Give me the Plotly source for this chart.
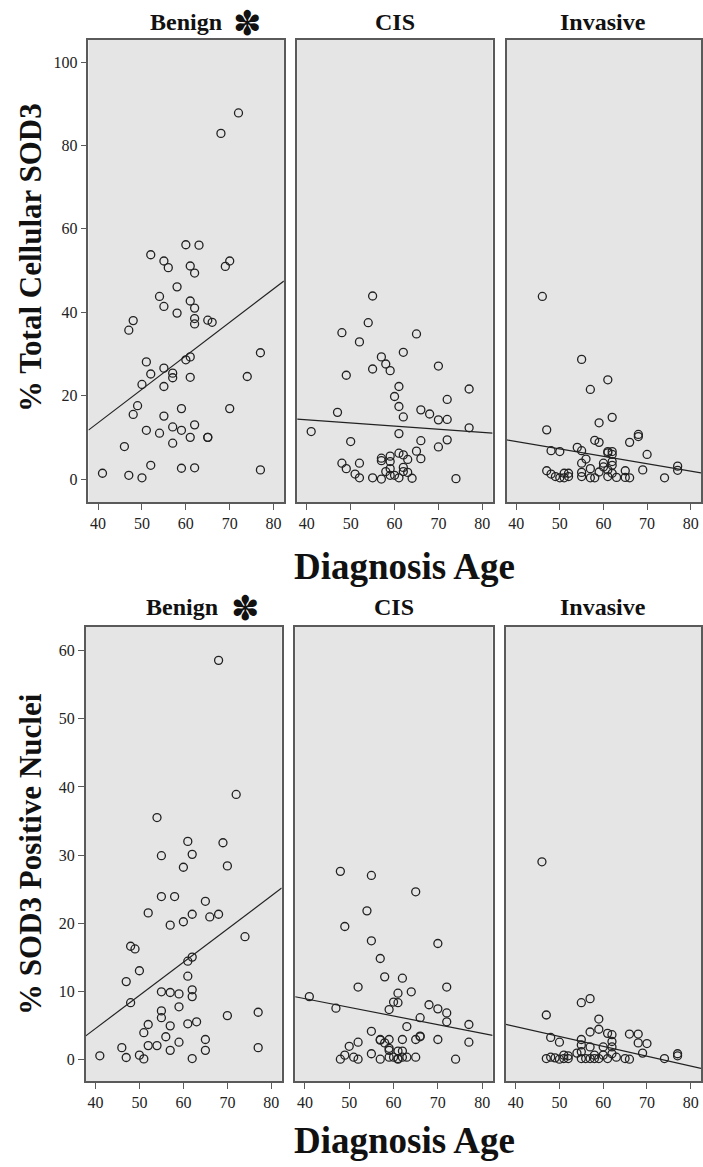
import plotly.graph_objects as go

# ---------------- data ----------------
panels = ["Benign", "CIS", "Invasive"]

# Top: % Total Cellular SOD3
top_benign_age = [72, 68, 60, 63, 52, 55, 56, 61, 62, 70, 69, 58, 54, 55, 58, 61, 62, 62, 62, 65, 66, 48, 47, 77, 74,
                  51, 52, 55, 57, 57, 60, 61, 61, 50, 55, 49, 48, 59, 70, 55, 57, 59, 62, 51, 54, 61, 57, 65, 65, 46,
                  52, 59, 62, 41, 47, 50, 77]
top_benign_val = [87.8, 82.9, 56.2, 56.1, 53.8, 52.3, 50.7, 51.1, 49.4, 52.3, 51.0, 46.1, 43.8, 41.4, 39.8, 42.7, 41.0,
                  38.5, 37.2, 38.1, 37.6, 38.0, 35.7, 30.3, 24.6, 28.1, 25.2, 26.6, 25.4, 24.3, 28.6, 29.3, 24.4, 22.7,
                  22.2, 17.6, 15.5, 16.9, 16.9, 15.1, 12.5, 11.7, 13.0, 11.7, 11.0, 10.0, 8.6, 10.0, 10.0, 7.8, 3.3,
                  2.6, 2.7, 1.4, 0.9, 0.3, 2.2]

top_cis_age = [55, 54, 48, 52, 65, 62, 57, 58, 55, 59, 49, 70, 77, 61, 60, 61, 62, 72, 66, 68, 70, 72, 77, 47, 41, 50,
               61, 66, 72, 70, 65, 61, 62, 63, 66, 57, 57, 59, 59, 48, 52, 49, 51, 52, 55, 57, 58, 59, 59, 60, 61, 62,
               62, 63, 64, 74]
top_cis_val = [43.9, 37.5, 35.1, 32.9, 34.8, 30.4, 29.3, 27.6, 26.4, 26.0, 24.9, 27.1, 21.6, 22.2, 19.8, 17.4, 14.9,
               19.1, 16.6, 15.6, 14.2, 14.3, 12.3, 16.0, 11.4, 9.0, 10.9, 9.2, 9.4, 7.7, 6.7, 6.2, 5.8, 4.7, 4.9, 5.0,
               4.4, 5.5, 4.2, 3.8, 3.8, 2.5, 1.2, 0.3, 0.3, 0.0, 1.8, 2.5, 0.9, 0.9, 0.3, 2.8, 1.8, 1.6, 0.2, 0.1]

top_inv_age = [46, 55, 61, 57, 62, 59, 47, 68, 68, 58, 59, 66, 48, 50, 54, 55, 61, 62, 61, 70, 56, 55, 60, 62, 62, 47,
               48, 49, 50, 51, 52, 52, 51, 55, 55, 57, 57, 58, 59, 61, 61, 62, 63, 65, 65, 66, 69, 74, 77, 77, 60, 62]
top_inv_val = [43.8, 28.7, 23.8, 21.5, 14.8, 13.5, 11.8, 10.7, 10.2, 9.3, 8.8, 8.8, 6.8, 6.6, 7.6, 6.8, 6.6, 6.6, 6.3,
               5.9, 4.8, 3.8, 3.8, 4.2, 3.3, 2.0, 1.2, 0.6, 0.3, 1.4, 1.4, 0.6, 0.3, 1.6, 0.6, 2.5, 0.3, 0.3, 1.7, 2.2,
               0.6, 1.4, 0.4, 2.0, 0.4, 0.3, 2.2, 0.3, 3.1, 2.1, 2.9, 5.9]

# Bottom: % SOD3 Positive Nuclei
bot_benign_age = [68, 72, 54, 61, 69, 62, 55, 60, 70, 55, 58, 65, 52, 60, 62, 66, 68, 57, 74, 48, 49, 62, 61, 50, 61,
                  47, 55, 57, 59, 62, 62, 48, 59, 55, 55, 70, 77, 52, 57, 61, 63, 51, 56, 59, 65, 46, 52, 54, 57, 65,
                  41, 47, 50, 51, 62, 77]
bot_benign_val = [58.6, 38.9, 35.5, 32.0, 31.8, 30.1, 29.9, 28.2, 28.4, 23.9, 23.9, 23.2, 21.5, 20.2, 21.3, 20.9, 21.3,
                  19.7, 18.0, 16.6, 16.2, 15.0, 14.4, 13.0, 12.2, 11.4, 9.9, 9.8, 9.6, 10.2, 9.2, 8.3, 7.7, 7.1, 6.1,
                  6.4, 6.9, 5.1, 4.9, 5.2, 5.5, 3.9, 3.3, 2.5, 2.9, 1.7, 2.0, 2.0, 1.3, 1.3, 0.5, 0.25, 0.6, 0.05, 0.1,
                  1.7]

bot_cis_age = [48, 55, 65, 54, 49, 55, 70, 57, 58, 62, 52, 72, 64, 61, 60, 61, 41, 47, 59, 68, 70, 72, 72, 66, 77, 63,
               55, 52, 50, 57, 57, 59, 58, 62, 65, 66, 66, 70, 77, 59, 59, 61, 62, 63, 49, 48, 51, 52, 55, 57, 59, 60,
               61, 61, 62, 65, 74]
bot_cis_val = [27.6, 27.0, 24.6, 21.8, 19.5, 17.4, 17.0, 14.8, 12.1, 11.9, 10.6, 10.6, 9.9, 9.7, 8.4, 8.3, 9.2, 7.5,
               7.3, 8.0, 7.4, 6.8, 5.5, 6.1, 5.1, 4.8, 4.1, 2.5, 1.9, 2.9, 2.8, 2.9, 2.4, 2.9, 2.9, 3.4, 3.3, 2.9, 2.5,
               1.6, 1.3, 1.2, 1.2, 0.3, 0.6, 0.0, 0.3, 0.0, 0.8, 0.0, 0.3, 0.3, 0.1, 0.0, 0.3, 0.3, 0.0]

bot_inv_age = [46, 55, 57, 47, 59, 48, 50, 57, 59, 61, 62, 62, 66, 68, 68, 70, 55, 55, 60, 62, 57, 69, 54, 55, 47, 48,
               49, 50, 51, 52, 51, 52, 55, 56, 57, 58, 59, 58, 60, 61, 62, 63, 65, 66, 74, 77, 77]
bot_inv_val = [29.0, 8.3, 8.9, 6.5, 5.9, 3.2, 2.5, 4.0, 4.4, 3.8, 3.6, 2.6, 3.7, 3.7, 2.4, 2.3, 2.9, 2.1, 1.8, 1.8, 1.8,
               0.9, 0.9, 1.1, 0.1, 0.3, 0.2, 0.0, 0.6, 0.5, 0.1, 0.1, 0.1, 0.1, 0.1, 0.1, 0.1, 0.6, 0.6, 0.1, 0.8, 0.3,
               0.1, 0.0, 0.1, 0.8, 0.5]

# Fit-line values read at age 40 and age 80 for each panel
fit_ages = [40, 80]
top_fit = {"Benign": [13.5, 45.6], "CIS": [14.2, 11.2], "Invasive": [9.0, 1.9]}
bot_fit = {"Benign": [4.5, 24.0], "CIS": [8.9, 3.8], "Invasive": [4.8, -1.0]}

x_ticks = [40, 50, 60, 70, 80]
top_y_ticks = [0, 20, 40, 60, 80, 100]
bot_y_ticks = [0, 10, 20, 30, 40, 50, 60]

top_data = {"Benign": (top_benign_age, top_benign_val), "CIS": (top_cis_age, top_cis_val),
            "Invasive": (top_inv_age, top_inv_val)}
bot_data = {"Benign": (bot_benign_age, bot_benign_val), "CIS": (bot_cis_age, bot_cis_val),
            "Invasive": (bot_inv_age, bot_inv_val)}

# ---------------- layout geometry ----------------
W, H = 703, 1167
XR = [37.8, 82.35]
TOP_YR = [-5.5, 105.3]
BOT_YR = [-3.2, 63.5]
top_xdom_px = [(88.7, 284.7), (298, 494), (508, 703)]
bot_xdom_px = [(86, 282.5), (296, 494), (507.5, 703)]
top_ydom_px = (40, 502)
bot_ydom_px = (627, 1081)

SERIF = "Liberation Serif, Times New Roman, serif"
INK = "#222222"
FRAME = "#5a5a5a"

fig = go.Figure()
layout = dict(width=W, height=H, margin=dict(l=0, r=0, t=0, b=0),
              paper_bgcolor="white", plot_bgcolor="#e5e5e5", showlegend=False)


def ydom(px):
    return [1 - px[1] / H, 1 - px[0] / H]


def add_row(row, data, fits, xdoms, ydpx, yr, yticks):
    for i, name in enumerate(panels):
        k = row * 3 + i + 1
        xa = "x" if k == 1 else f"x{k}"
        ya = "y" if k == 1 else f"y{k}"
        ages, vals = data[name]
        fig.add_trace(go.Scatter(x=ages, y=vals, mode="markers", xaxis=xa, yaxis=ya,
                                 marker=dict(symbol="circle-open", size=8,
                                             line=dict(width=1.3, color=INK), color=INK),
                                 cliponaxis=True, hoverinfo="skip"))
        f0, f1 = fits[name]
        slope = (f1 - f0) / (fit_ages[1] - fit_ages[0])
        lx = [XR[0], XR[1]]
        ly = [f0 + slope * (v - fit_ages[0]) for v in lx]
        fig.add_trace(go.Scatter(x=lx, y=ly, mode="lines", xaxis=xa, yaxis=ya,
                                 line=dict(color=INK, width=1.2), hoverinfo="skip"))
        d = xdoms[i]
        layout["xaxis" if k == 1 else f"xaxis{k}"] = dict(
            domain=[d[0] / W, min(d[1] / W, 1.0)], range=XR, anchor=ya,
            tickvals=x_ticks, ticks="outside", ticklen=6, tickwidth=1.2, tickcolor=FRAME,
            showline=True, linecolor=FRAME, linewidth=1.5, mirror=True,
            showgrid=False, zeroline=False,
            tickfont=dict(family=SERIF, size=16, color=INK))
        layout["yaxis" if k == 1 else f"yaxis{k}"] = dict(
            domain=ydom(ydpx), range=yr, anchor=xa,
            tickvals=yticks, ticks="outside" if i == 0 else "", ticklen=6, tickwidth=1.2, tickcolor=FRAME,
            showticklabels=(i == 0),
            showline=True, linecolor=FRAME, linewidth=1.5, mirror=True,
            showgrid=False, zeroline=False,
            tickfont=dict(family=SERIF, size=16, color=INK))


add_row(0, top_data, top_fit, top_xdom_px, top_ydom_px, TOP_YR, top_y_ticks)
add_row(1, bot_data, bot_fit, bot_xdom_px, bot_ydom_px, BOT_YR, bot_y_ticks)

ann = []


def txt(x, y, s, size, family=SERIF, bold=True, angle=0):
    ann.append(dict(x=x / W, y=1 - y / H, xref="paper", yref="paper", text=f"<b>{s}</b>" if bold else s,
                    showarrow=False, textangle=angle, xanchor="center", yanchor="middle",
                    font=dict(family=family, size=size, color="#111111")))


# panel titles
for (bx, sx, cx, ix, ty) in [(186.5, 248, 396, 605, 22), (183, 246, 395, 605, 607)]:
    txt(bx, ty, "Benign", 24)
    txt(sx, ty + 1, "✽", 34, family="DejaVu Sans", bold=False)
    txt(cx, ty, "CIS", 24)
    txt(ix, ty, "Invasive", 24)

txt(406, 566, "Diagnosis Age", 37)
txt(406, 1140, "Diagnosis Age", 37)
txt(30, 257, "% Total Cellular SOD3", 31, angle=-90)
txt(30, 854, "% SOD3 Positive Nuclei", 31, angle=-90)

layout["annotations"] = ann
fig.update_layout(**layout)
fig.write_html("out.html")
